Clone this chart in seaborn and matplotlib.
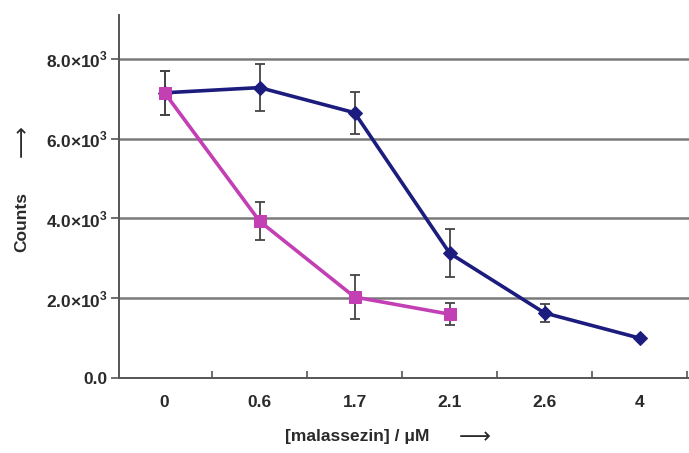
import matplotlib
matplotlib.use("Agg")
import matplotlib.pyplot as plt
import seaborn as sns
import numpy as np
import pandas as pd

categories = ["0", "0.6", "1.7", "2.1", "2.6", "4"]
blue_values = [7150, 7280, 6650, 3130, 1630, 1000]
blue_errors = [550, 580, 530, 600, 230, 0]
pink_values = [7150, 3930, 2030, 1600]
pink_errors = [550, 480, 560, 280]
y_ticks = [0, 2000, 4000, 6000, 8000]
y_tick_labels = ["0.0", "2.0×10$^{\\mathbf{3}}$", "4.0×10$^{\\mathbf{3}}$",
                 "6.0×10$^{\\mathbf{3}}$", "8.0×10$^{\\mathbf{3}}$"]

sns.set_theme(style="white")
plt.rcParams['font.family'] = ['Liberation Sans', 'DejaVu Sans']
plt.rcParams['mathtext.fontset'] = 'custom'
plt.rcParams['mathtext.bf'] = 'Liberation Sans:bold'
plt.rcParams['mathtext.rm'] = 'Liberation Sans:bold'

blue_df = pd.DataFrame({"pos": np.arange(len(blue_values)), "val": blue_values})
pink_df = pd.DataFrame({"pos": np.arange(len(pink_values)), "val": pink_values})

fig = plt.figure(figsize=(6.89, 4.53), dpi=100)
ax = fig.add_axes([119/689, 75/453, 1 - 119/689, (378-15)/453])

for yt in y_ticks[1:]:
    ax.axhline(yt, color="#7a7a7a", lw=1.8, zorder=0)

blue = "#1c1c7e"
pink = "#c23fb4"
err_col = "#444444"
txt = "#2a2a2a"

ax.errorbar(blue_df["pos"], blue_df["val"], yerr=blue_errors, fmt="none",
            ecolor=err_col, elinewidth=1.3, capsize=3.5, capthick=1.3, zorder=2)
ax.errorbar(pink_df["pos"], pink_df["val"], yerr=pink_errors, fmt="none",
            ecolor=err_col, elinewidth=1.3, capsize=3.5, capthick=1.3, zorder=2)

sns.lineplot(data=blue_df, x="pos", y="val", ax=ax, color=blue, lw=2.6,
             marker="D", markersize=7, markeredgecolor=blue, zorder=3)
sns.lineplot(data=pink_df, x="pos", y="val", ax=ax, color=pink, lw=2.6,
             marker="s", markersize=8.5, markeredgecolor=pink, zorder=4)

ax.set_xlim(-0.48, 5.52)
ax.set_ylim(0, 9100)
ax.set_xticks(np.arange(len(categories)))
ax.set_xticklabels(categories, fontsize=12.5, fontweight="bold", color=txt)
ax.set_xticks(np.arange(len(categories)) + 0.5, minor=True)
ax.set_yticks(y_ticks)
ax.set_yticklabels(y_tick_labels, fontsize=12.5, fontweight="bold", color=txt)
ax.tick_params(axis="x", which="major", length=0, pad=12)
ax.tick_params(axis="x", which="minor", direction="in", length=5, width=1.2, color="#555555", bottom=True)
ax.tick_params(axis="y", direction="out", length=6, width=1.2, color="#555555", left=True, pad=2)
ax.set_xlabel("")
ax.set_ylabel("")

for s in ["top", "right"]:
    ax.spines[s].set_visible(False)
for s in ["left", "bottom"]:
    ax.spines[s].set_color("#555555")
    ax.spines[s].set_linewidth(1.4)

fig.text(357/689, 1 - 437/453, "[malassezin] / μM", ha="center", va="center",
         fontsize=12.5, fontweight="bold", color=txt)
fig.text(475/689, 1 - 437/453, "⟶", ha="center", va="center",
         fontsize=16, family=["DejaVu Sans"], color=txt)
fig.text(22/689, 1 - 222/453, "Counts", ha="center", va="center", rotation=90,
         fontsize=12.5, fontweight="bold", color=txt)
fig.text(22/689, 1 - 141/453, "⟶", ha="center", va="center", rotation=90,
         fontsize=16, family=["DejaVu Sans"], color=txt)

fig.savefig("out.png", dpi=100)
